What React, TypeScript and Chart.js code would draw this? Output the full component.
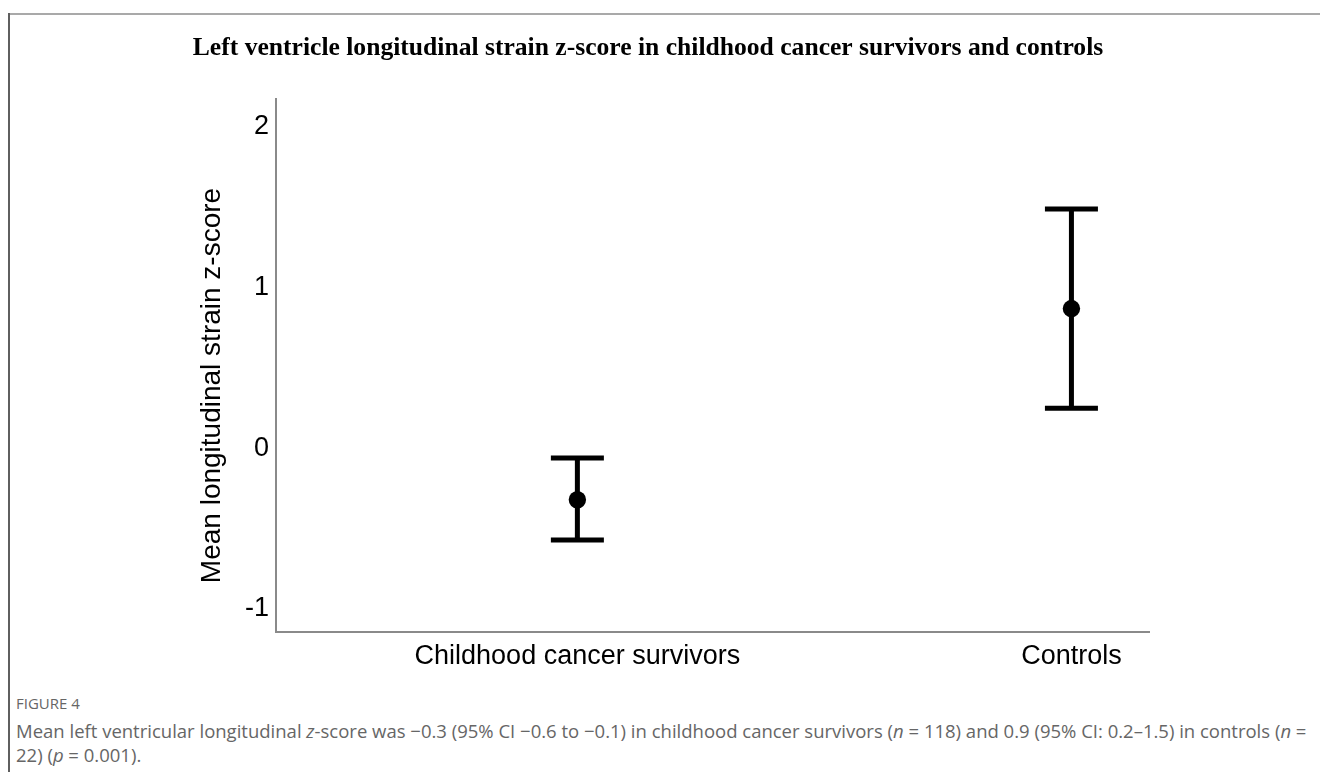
import { useEffect, useRef } from "react";
import { Chart, registerables } from "chart.js";

Chart.register(...registerables);

// Groups and their positions on the horizontal axis
const groups = ["Childhood cancer survivors", "Controls"];
const groupPositions = [1, 2];

// Mean LV longitudinal strain z-score with 95% confidence interval
const meanZ = [-0.32, 0.87];
const ciLower = [-0.57, 0.25];
const ciUpper = [-0.06, 1.49];

// Vertical axis
const yTickValues = [-1, 0, 1, 2];
const yMin = -1.143;
const yMax = 2.174;
const xMin = 0.39;
const xMax = 2.157;

const chartTitle =
  "Left ventricle longitudinal strain z-score in childhood cancer survivors and controls";
const yAxisTitle = "Mean longitudinal strain z-score";

const AXIS_FONT = "'Liberation Sans', Arial, sans-serif";

// Draws the confidence-interval whiskers (stem plus caps) through the chart scales
const ciErrorBars = {
  id: "ciErrorBars",
  beforeDatasetsDraw(chart: any, _args: any, opts: any) {
    const { ctx, scales } = chart;
    const x = scales.x;
    const y = scales.y;
    ctx.save();
    ctx.strokeStyle = opts.color;
    ctx.lineWidth = opts.lineWidth;
    ctx.lineCap = "butt";
    groupPositions.forEach((g, i) => {
      const px = x.getPixelForValue(g);
      const top = y.getPixelForValue(ciUpper[i]);
      const bottom = y.getPixelForValue(ciLower[i]);
      const half = opts.capHalfWidth;
      ctx.beginPath();
      ctx.moveTo(px, top);
      ctx.lineTo(px, bottom);
      ctx.moveTo(px - half, top);
      ctx.lineTo(px + half, top);
      ctx.moveTo(px - half, bottom);
      ctx.lineTo(px + half, bottom);
      ctx.stroke();
    });
    ctx.restore();
  },
};

// Rotated title of the vertical axis
const yTitle = {
  id: "yTitle",
  afterDraw(chart: any, _args: any, opts: any) {
    const { ctx, chartArea, scales } = chart;
    ctx.save();
    ctx.font = `${opts.size}px ${AXIS_FONT}`;
    ctx.fillStyle = opts.color;
    ctx.textAlign = "center";
    ctx.textBaseline = "middle";
    ctx.translate(
      scales.y.left + opts.offsetX,
      (chartArea.top + chartArea.bottom) / 2 + opts.shiftY
    );
    ctx.rotate(-Math.PI / 2);
    ctx.fillText(opts.text, 0, 0);
    ctx.restore();
  },
};

function StrainChart() {
  const canvasRef = useRef<HTMLCanvasElement | null>(null);

  useEffect(() => {
    if (!canvasRef.current) return;
    const chart = new Chart(canvasRef.current, {
      type: "scatter",
      data: {
        datasets: [
          {
            label: "Mean",
            data: groupPositions.map((g, i) => ({ x: g, y: meanZ[i] })),
            pointRadius: 8.7,
            pointHoverRadius: 8.7,
            pointBackgroundColor: "#000",
            pointBorderWidth: 0,
            showLine: false,
          },
        ],
      },
      options: {
        animation: false,
        responsive: false,
        events: [],
        layout: { padding: { left: 147, right: 171, top: 0, bottom: 0 } },
        plugins: {
          legend: { display: false },
          tooltip: { enabled: false },
          title: {
            display: true,
            text: chartTitle,
            color: "#000",
            font: { family: "'Liberation Serif', 'Times New Roman', serif", size: 25.6, weight: "bold" },
            padding: { top: 33, bottom: 35.3 },
          },
          ciErrorBars: { color: "#000", lineWidth: 5, capHalfWidth: 26.5 },
          yTitle: { text: yAxisTitle, size: 28, color: "#000", offsetX: 65, shiftY: 20 },
        } as any,
        scales: {
          x: {
            type: "linear",
            min: xMin,
            max: xMax,
            grid: { display: false, drawTicks: false },
            border: { display: true, color: "#8a8a8a", width: 2 },
            afterBuildTicks: (s: any) => {
              s.ticks = groupPositions.map((v) => ({ value: v }));
            },
            afterFit: (s: any) => {
              s.height = 48;
            },
            ticks: {
              padding: 8,
              color: "#000",
              maxRotation: 0,
              autoSkip: false,
              font: { family: AXIS_FONT, size: 27 },
              callback: (v: any) => {
                const idx = groupPositions.indexOf(Number(v));
                return idx >= 0 ? groups[idx] : "";
              },
            },
          },
          y: {
            type: "linear",
            min: yMin,
            max: yMax,
            grid: { display: false, drawTicks: false },
            border: { display: true, color: "#8a8a8a", width: 2 },
            afterBuildTicks: (s: any) => {
              s.ticks = yTickValues.map((v) => ({ value: v }));
            },
            afterFit: (s: any) => {
              s.width = 129;
            },
            ticks: {
              padding: 7,
              color: "#000",
              font: { family: AXIS_FONT, size: 27 },
              callback: (v: any) => String(v),
            },
          },
        },
      },
      plugins: [ciErrorBars, yTitle],
    });
    return () => chart.destroy();
  }, []);

  return (
    <canvas
      ref={canvasRef}
      width={1320}
      height={680}
      style={{ position: "absolute", left: 0, top: 0, display: "block" }}
    />
  );
}

export default function App() {
  const captionColor = "#666";
  return (
    <div
      style={{
        position: "absolute",
        left: 0,
        top: 0,
        width: 1320,
        height: 772,
        background: "#fff",
        overflow: "hidden",
      }}
    >
      <div style={{ position: "absolute", left: 9, top: 13, width: 1311, height: 2, background: "#a9a9a9" }} />
      <div style={{ position: "absolute", left: 8, top: 13, width: 2, height: 759, background: "#5f5f5f" }} />
      <StrainChart />
      <div
        style={{
          position: "absolute",
          left: 16,
          top: 692,
          fontFamily: "'Open Sans', sans-serif",
          fontSize: 15,
          lineHeight: "22px",
          color: captionColor,
          whiteSpace: "nowrap",
        }}
      >
        FIGURE 4
      </div>
      <div
        style={{
          position: "absolute",
          left: 16,
          top: 719,
          fontFamily: "'Open Sans', sans-serif",
          fontSize: 18.5,
          lineHeight: "24px",
          color: captionColor,
          whiteSpace: "nowrap",
        }}
      >
        Mean left ventricular longitudinal <i>z</i>-score was −0.3 (95% CI −0.6 to −0.1) in childhood cancer
        survivors (<i>n</i> = 118) and 0.9 (95% CI: 0.2–1.5) in controls (<i>n</i> =
        <br />
        22) (<i>p</i> = 0.001).
      </div>
    </div>
  );
}
